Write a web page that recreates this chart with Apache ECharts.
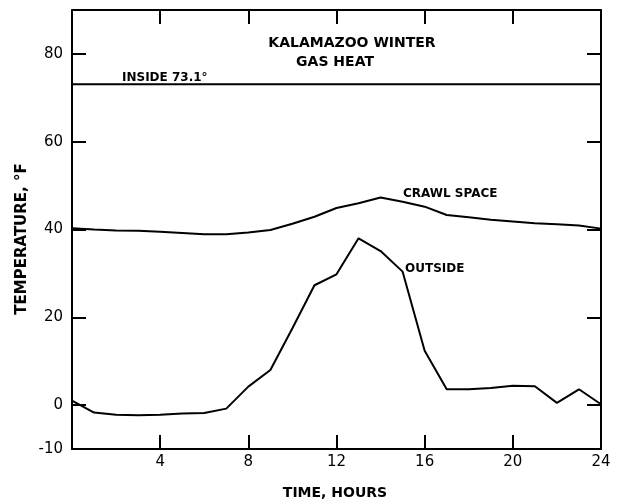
<!DOCTYPE html>
<html>
<head>
<meta charset="utf-8">
<script src="https://cdn.jsdelivr.net/npm/echarts@6/dist/echarts.min.js"></script>
<style>html,body{margin:0;padding:0;background:#fff}#c{width:618px;height:504px}</style>
</head>
<body>
<div id="c"></div>
<script>
var hours = [0,1,2,3,4,5,6,7,8,9,10,11,12,13,14,15,16,17,18,19,20,21,22,23,24];
var outside = [1.0,-1.7,-2.2,-2.3,-2.2,-1.9,-1.8,-0.8,4.2,8.0,17.5,27.3,29.8,38.0,35.1,30.4,12.4,3.6,3.6,3.9,4.4,4.3,0.5,3.6,0.2];
var crawlSpace = [40.3,40.0,39.8,39.7,39.5,39.2,38.9,38.9,39.3,39.9,41.3,42.9,44.9,46.0,47.3,46.3,45.2,43.3,42.8,42.2,41.8,41.4,41.2,40.9,40.2];
var insideTemp = 73.1;
var insideHours = [0,24];
var xTickLabels = [4,8,12,16,20,24];
var xTicks = [4,8,12,16,20];
var yTickLabels = [-10,0,20,40,60,80];
var yTicks = [0,20,40,60,80];

var FONT = 'DejaVu Sans';
var chart = echarts.init(document.getElementById('c'), null, {renderer:'canvas'});
function pairs(xs, ys){ return xs.map(function(x,i){ return [x, ys[i]]; }); }
var axisLine = {show:true, onZero:false, lineStyle:{color:'#000', width:2}};
var tick = {show:true, inside:true, length:14, lineStyle:{color:'#000', width:2}};
chart.setOption({
  animation:false,
  backgroundColor:'#fff',
  grid:{left:72, right:17, top:10, bottom:55, containLabel:false},
  xAxis:[
    {type:'value', min:0, max:24, position:'bottom', axisLine:axisLine,
     axisTick:Object.assign({customValues:xTicks}, tick),
     axisLabel:{customValues:xTickLabels, color:'#000', fontFamily:FONT, fontSize:15, margin:6},
     splitLine:{show:false}},
    {type:'value', min:0, max:24, position:'top', axisLine:axisLine,
     axisTick:Object.assign({customValues:xTicks}, tick),
     axisLabel:{show:false}, splitLine:{show:false}}
  ],
  yAxis:[
    {type:'value', min:-10, max:90, position:'left', axisLine:axisLine,
     axisTick:Object.assign({customValues:yTicks}, tick),
     axisLabel:{customValues:yTickLabels, color:'#000', fontFamily:FONT, fontSize:15, margin:9},
     splitLine:{show:false}},
    {type:'value', min:-10, max:90, position:'right', axisLine:axisLine,
     axisTick:Object.assign({customValues:yTicks}, tick),
     axisLabel:{show:false}, splitLine:{show:false}}
  ],
  series:[
    {type:'line', name:'Outside', data:pairs(hours, outside), symbol:'none',
     lineStyle:{color:'#000', width:2}},
    {type:'line', name:'Crawl space', data:pairs(hours, crawlSpace), symbol:'none',
     lineStyle:{color:'#000', width:2}},
    {type:'line', name:'Inside', data:insideHours.map(function(h){return [h, insideTemp];}), symbol:'none',
     lineStyle:{color:'#000', width:2}}
  ],
  graphic:[
    {type:'text', style:{text:'KALAMAZOO WINTER', fill:'#000', font:'bold 14px "DejaVu Sans"', textAlign:'center', textVerticalAlign:'middle'}, x:352, y:43},
    {type:'text', style:{text:'GAS HEAT', fill:'#000', font:'bold 14px "DejaVu Sans"', textAlign:'center', textVerticalAlign:'middle'}, x:335, y:62},
    {type:'text', style:{text:'INSIDE 73.1°', fill:'#000', font:'bold 12px "DejaVu Sans"', textAlign:'left', textVerticalAlign:'middle'}, x:122, y:78},
    {type:'text', style:{text:'CRAWL SPACE', fill:'#000', font:'bold 12px "DejaVu Sans"', textAlign:'left', textVerticalAlign:'middle'}, x:403, y:194},
    {type:'text', style:{text:'OUTSIDE', fill:'#000', font:'bold 12px "DejaVu Sans"', textAlign:'left', textVerticalAlign:'middle'}, x:405, y:269},
    {type:'text', style:{text:'TIME, HOURS', fill:'#000', font:'bold 14px "DejaVu Sans"', textAlign:'center', textVerticalAlign:'middle'}, x:335, y:493},
    {type:'text', style:{text:'TEMPERATURE, °F', fill:'#000', font:'bold 15px "DejaVu Sans"', textAlign:'center', textVerticalAlign:'middle'}, x:22, y:239, rotation:Math.PI/2}
  ]
});
</script>
</body>
</html>
